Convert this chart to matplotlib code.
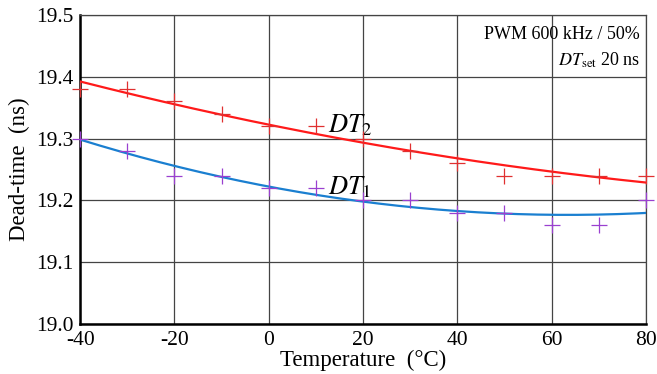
import numpy as np
import matplotlib
matplotlib.use('Agg')
from matplotlib import pyplot as plt

# data
temp = [-40, -30, -20, -10, 0, 10, 20, 30, 40, 50, 60, 70, 80]
dt2 = [19.38, 19.38, 19.36, 19.34, 19.32, 19.32, 19.30, 19.28, 19.26, 19.24, 19.24, 19.24, 19.24]
dt1 = [19.30, 19.28, 19.24, 19.24, 19.22, 19.22, 19.20, 19.20, 19.18, 19.18, 19.16, 19.16, 19.20]
xticklabels = ['-40', '-20', '0', '20', '40', '60', '80']
yticklabels = ['19.0', '19.1', '19.2', '19.3', '19.4', '19.5']

plt.rcParams['font.family'] = ['Liberation Serif', 'DejaVu Serif']
plt.rcParams['mathtext.fontset'] = 'stix'

fig = plt.figure(figsize=(6.57, 3.74), dpi=100)
ax = fig.add_axes([0.122, 0.134, 0.861, 0.826])

# quadratic fits for the trend lines
xs = np.linspace(-40, 80, 200)
p2 = np.polyfit(temp, dt2, 2)
p1 = np.polyfit(temp, dt1, 2)
ax.plot(xs, np.polyval(p2, xs), color='#ff1a1a', lw=1.6, zorder=3)
ax.plot(xs, np.polyval(p1, xs), color='#1a7fd0', lw=1.6, zorder=3)

ax.plot(temp, dt2, '+', color='#e03030', ms=11, mew=0.9, zorder=4, clip_on=False)
ax.plot(temp, dt1, '+', color='#9a40d0', ms=11, mew=0.9, zorder=4, clip_on=False)

ax.set_xlim(-40, 80)
ax.set_ylim(19.0, 19.5)
ax.set_xticks(range(-40, 81, 20))
ax.set_xticklabels(xticklabels)
ax.set_yticks(np.arange(19.0, 19.51, 0.1))
ax.set_yticklabels(yticklabels)
ax.tick_params(length=0, labelsize=15.5)
ax.tick_params(axis='y', pad=5)
ax.tick_params(axis='x', pad=5)
ax.grid(True, color='#444444', lw=0.9)

for s in ['top', 'right']:
    ax.spines[s].set_color('#444444')
    ax.spines[s].set_linewidth(0.9)
for s in ['left', 'bottom']:
    ax.spines[s].set_color('black')
    ax.spines[s].set_linewidth(1.8)

ax.set_xlabel('Temperature  (°C)', fontsize=16.5, labelpad=0)
ax.set_ylabel('Dead-time  (ns)', fontsize=16.5, labelpad=4)

ax.text(12.5, 19.322, r'$DT_2$', fontsize=19, va='center', ha='left')
ax.text(12.5, 19.222, r'$DT_1$', fontsize=19, va='center', ha='left')

ax.text(0.99, 0.965, 'PWM 600 kHz / 50%', transform=ax.transAxes,
        ha='right', va='top', fontsize=13)
ax.text(0.99, 0.885, r'$DT_{\mathrm{set}}$ 20 ns', transform=ax.transAxes,
        ha='right', va='top', fontsize=13)

fig.savefig('out.png', dpi=100)
